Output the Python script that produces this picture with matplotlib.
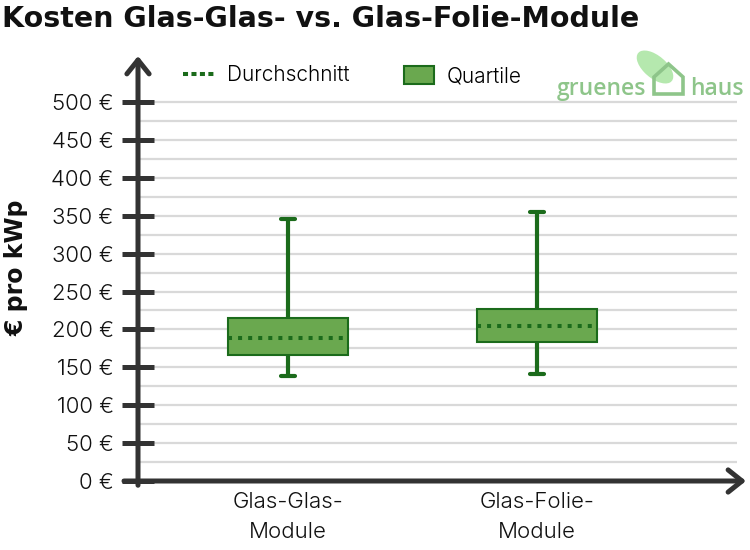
import matplotlib
matplotlib.use("Agg")
import matplotlib.pyplot as plt
from matplotlib.lines import Line2D
from matplotlib.patches import Patch, Polygon, Ellipse
import matplotlib.font_manager as fm

categories = ["Glas-Glas-\nModule", "Glas-Folie-\nModule"]
whisker_low = [139, 141]
q1 = [166, 183]
mean = [189, 205]
q3 = [215, 227]
whisker_high = [346, 355]
major_ticks = list(range(0, 501, 50))
minor_ticks = list(range(25, 501, 50))
tick_labels = [f"{v} €" for v in major_ticks]

DARK = "#1b6b1b"
FILL = "#6aa84f"
AX = "#333333"
GRID = "#d9d9d9"
LOGO = "#8ec58a"
TXT = "#111111"

light = fm.FontProperties(family="Inter", weight=300, size=16)
bold_font = "DejaVu Sans"

W, H = 750, 550
fig = plt.figure(figsize=(7.5, 5.5), dpi=100)
x0, x1, y0, ytop = 138, 746, 481, 56
ax = fig.add_axes([x0 / W, 1 - y0 / H, (x1 - x0) / W, (y0 - ytop) / H])
ppu = 0.758
ax.set_ylim(0, (y0 - ytop) / ppu)
c0, step = 288, 249
ax.set_xlim((x0 - c0) / step, (x1 - c0) / step)

for s in ax.spines.values():
    s.set_visible(False)

# gridlines
xgrid_end = (737 - c0) / step
for v in major_ticks[1:] + minor_ticks:
    ax.hlines(v, ax.get_xlim()[0], xgrid_end, color=GRID, lw=1.6, zorder=0)

stats = []
for i in range(len(categories)):
    stats.append(dict(med=mean[i], mean=mean[i], q1=q1[i], q3=q3[i],
                      whislo=whisker_low[i], whishi=whisker_high[i], fliers=[]))
ax.bxp(stats, positions=list(range(len(categories))), widths=0.482,
       capwidths=0.058, patch_artist=True, showmeans=True, meanline=True,
       showfliers=False,
       boxprops=dict(facecolor=FILL, edgecolor=DARK, linewidth=1.5),
       whiskerprops=dict(color=DARK, linewidth=3.0, solid_capstyle="butt"),
       capprops=dict(color=DARK, linewidth=3.0, solid_capstyle="round"),
       medianprops=dict(linewidth=0),
       meanprops=dict(color=DARK, linestyle=(0, (1, 1.5)), linewidth=2.9))

ax.set_yticks(major_ticks)
ax.set_yticklabels(tick_labels, fontproperties=light, color=TXT)
ax.set_yticks(minor_ticks, minor=True)
ax.tick_params(axis="y", which="major", direction="inout", length=23, width=3.6,
               color=AX, pad=6)
ax.tick_params(axis="y", which="minor", length=0)
ax.set_xticks(range(len(categories)))
ax.set_xticklabels(categories, fontproperties=light, color=TXT,
                   linespacing=1.6)
ax.tick_params(axis="x", length=0, pad=8)

# axis arrows
aprops = dict(arrowstyle="->,head_length=0.5,head_width=0.4", lw=3.6,
              color=AX, mutation_scale=20, shrinkA=0, shrinkB=0)
ax.annotate("", xy=(0, 1), xytext=(0, -0.01), xycoords="axes fraction",
            arrowprops=aprops)
ax.annotate("", xy=(1, 0), xytext=((124 - x0) / (x1 - x0), 0),
            xycoords="axes fraction", arrowprops=aprops)

ax.set_ylabel("€ pro kWp", family=bold_font, fontweight="bold", fontsize=17,
              color=TXT)
ax.yaxis.label.set_verticalalignment("center")
ax.yaxis.set_label_coords((16.5 - x0) / (x1 - x0), (y0 - 268) / (y0 - ytop))

fig.text(2 / W, 1 - 27 / H, "Kosten Glas-Glas- vs. Glas-Folie-Module",
         family=bold_font, fontweight="bold", fontsize=20.5, color=TXT,
         ha="left", va="baseline")

leg_font = fm.FontProperties(family="Inter", weight=300, size=15)
leg1 = fig.legend([Line2D([], [], color=DARK, linestyle=(0, (1.25, 0.85)),
                          linewidth=2.9)], ["Durchschnitt"],
                  loc="center left", bbox_to_anchor=(183 / W, 1 - 75 / H),
                  frameon=False, prop=leg_font, borderpad=0, borderaxespad=0,
                  handlelength=1.6, handletextpad=0.5)
leg2 = fig.legend([Patch(facecolor=FILL, edgecolor=DARK, linewidth=1.5)],
                  ["Quartile"], loc="center left",
                  bbox_to_anchor=(404 / W, 1 - 76 / H), frameon=False,
                  prop=leg_font, borderpad=0, borderaxespad=0,
                  handlelength=1.45, handleheight=0.95, handletextpad=0.6)

# logo
fig.patches.append(Ellipse((655 / W, 1 - 67 / H), 26 / W, 38 / H, angle=35,
                           transform=fig.transFigure, facecolor="#ade6a5",
                           edgecolor="none", alpha=0.9))
fig.text(557 / W, 1 - 95 / H, "gruenes", family="Open Sans", fontsize=16.5,
         color=LOGO, fontweight="semibold", va="baseline", ha="left")
fig.text(690 / W, 1 - 95 / H, "haus", family="Open Sans", fontsize=16.5,
         color=LOGO, fontweight="semibold", va="baseline", ha="left")
house = [(654, 94), (683, 94), (683, 77), (668.5, 64), (654, 77)]
fig.patches.append(Polygon([(x / W, 1 - y / H) for x, y in house], closed=True,
                           transform=fig.transFigure, fill=False,
                           edgecolor=LOGO, linewidth=2.6))

fig.savefig("out.png", dpi=100)
